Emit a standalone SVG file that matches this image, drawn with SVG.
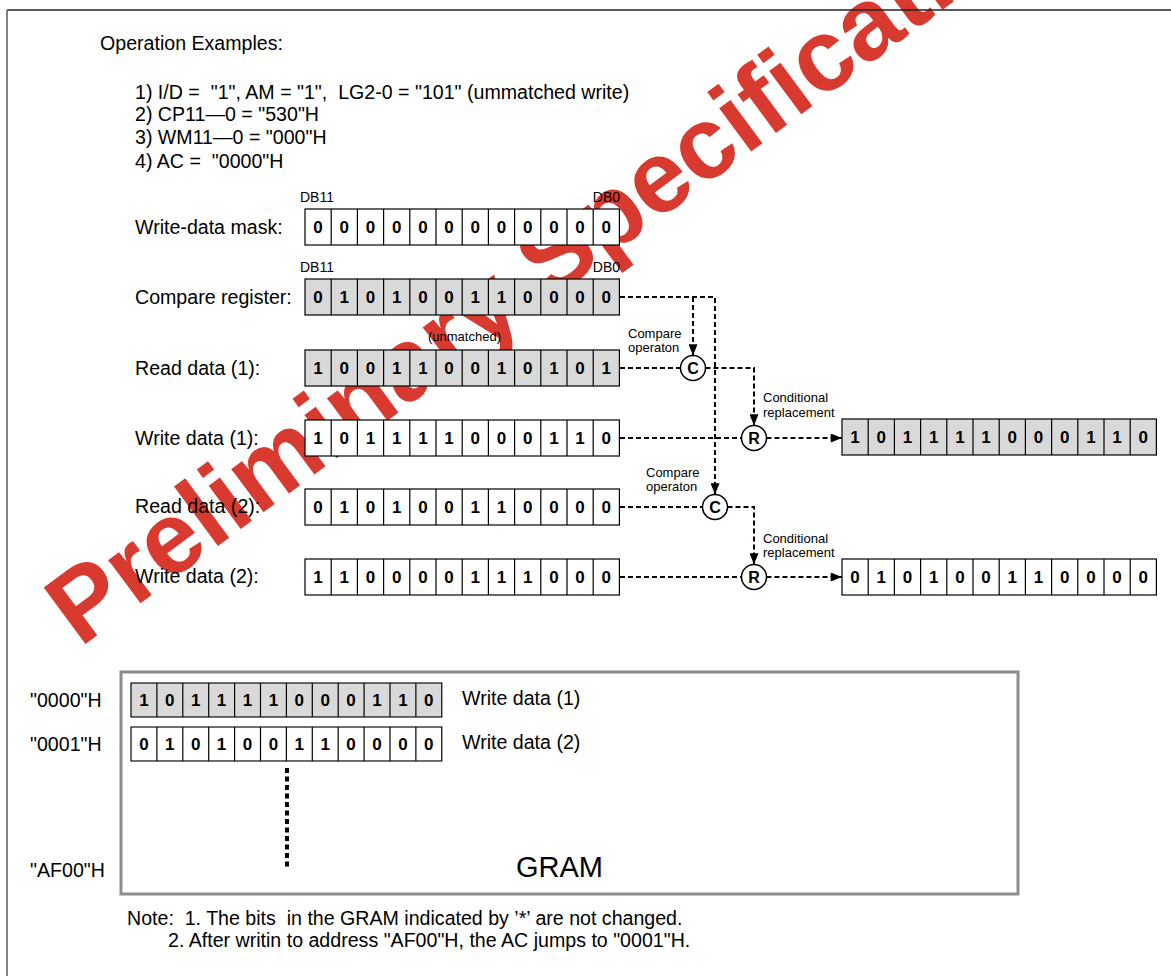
<svg xmlns="http://www.w3.org/2000/svg" xmlns:xlink="http://www.w3.org/1999/xlink" width="1171" height="976" viewBox="0 0 1171 976">
<style>
text{font-family:"Liberation Sans",Arial,sans-serif;fill:#000}
.t{font-size:19.6px}
.s{font-size:13px}
.db{font-size:14px}
.b{font-size:17px;font-weight:bold;text-anchor:middle}
.cl{font-size:16px;font-weight:bold;text-anchor:middle}
.grid rect,.grid path{stroke:#000;stroke-width:1.2}
.grid path{fill:none}
.g{fill:#d9d9d9}
.w{fill:#fff}
.con{fill:none;stroke:#000;stroke-width:2;stroke-dasharray:5 3}
.op{fill:#fff;stroke:#000;stroke-width:1.5}
.wm{font-size:102px;font-weight:bold;fill:#d93a30}
</style>
<defs>
<g id="cells" class="grid">
<rect width="314.4" height="36"/>
<path d="M26.2 0v36M52.4 0v36M78.6 0v36M104.8 0v36M131 0v36M157.2 0v36M183.4 0v36M209.6 0v36M235.8 0v36M262 0v36M288.2 0v36"/>
</g>
<marker id="ah" viewBox="0 0 10 8" refX="10" refY="4" markerWidth="14" markerHeight="9" markerUnits="userSpaceOnUse" orient="auto"><path d="M0 0L10 4L0 8z" fill="#000"/></marker>
</defs>
<rect width="1171" height="976" fill="#fff"/>

<text class="wm" x="80" y="648" transform="rotate(-36.5 80 648)">Preliminary Specification</text>

<path d="M7 10H1171" stroke="#222" stroke-width="1.3"/>
<path d="M7 10V976" stroke="#808080" stroke-width="2"/>

<g id="header">
<text class="t" x="100" y="50">Operation Examples:</text>
<text class="t" x="135" y="99" xml:space="preserve">1) I/D =  "1", AM = "1",  LG2-0 = "101" (ummatched write)</text>
<text class="t" x="135" y="121">2) CP11—0 = "530"H</text>
<text class="t" x="135" y="144">3) WM11—0 = "000"H</text>
<text class="t" x="135" y="168" xml:space="preserve">4) AC =  "0000"H</text>
</g>

<g id="mask">
<text class="t" x="135" y="234">Write-data mask:</text>
<text class="db" x="300" y="202">DB11</text>
<text class="db" x="620" y="202" text-anchor="end">DB0</text>
<use xlink:href="#cells" x="305" y="209" class="w"/>
<text class="b" y="233" x="318.1 344.3 370.5 396.7 422.9 449.1 475.3 501.5 527.7 553.9 580.1 606.3">000000000000</text>
</g>

<g id="compare">
<text class="t" x="135" y="304">Compare register:</text>
<text class="db" x="300" y="272">DB11</text>
<text class="db" x="620" y="272" text-anchor="end">DB0</text>
<use xlink:href="#cells" x="305" y="279" class="g"/>
<text class="b" y="303" x="318.1 344.3 370.5 396.7 422.9 449.1 475.3 501.5 527.7 553.9 580.1 606.3">010100110000</text>
</g>

<g id="read1">
<text class="t" x="135" y="375">Read data (1):</text>
<text class="s" x="428" y="341">(unmatched)</text>
<use xlink:href="#cells" x="305" y="350" class="g"/>
<text class="b" y="374" x="318.1 344.3 370.5 396.7 422.9 449.1 475.3 501.5 527.7 553.9 580.1 606.3">100110010101</text>
</g>

<g id="write1">
<text class="t" x="135" y="445">Write data (1):</text>
<use xlink:href="#cells" x="305" y="420" class="w"/>
<text class="b" y="444" x="318.1 344.3 370.5 396.7 422.9 449.1 475.3 501.5 527.7 553.9 580.1 606.3">101111000110</text>
</g>

<g id="read2">
<text class="t" x="135" y="513">Read data (2):</text>
<use xlink:href="#cells" x="305" y="489" class="w"/>
<text class="b" y="513" x="318.1 344.3 370.5 396.7 422.9 449.1 475.3 501.5 527.7 553.9 580.1 606.3">010100110000</text>
</g>

<g id="write2">
<text class="t" x="135" y="583">Write data (2):</text>
<use xlink:href="#cells" x="305" y="559" class="w"/>
<text class="b" y="583" x="318.1 344.3 370.5 396.7 422.9 449.1 475.3 501.5 527.7 553.9 580.1 606.3">110000111000</text>
</g>

<g id="out1">
<use xlink:href="#cells" x="842" y="419" class="g"/>
<text class="b" y="443" x="855.1 881.3 907.5 933.7 959.9 986.1 1012.3 1038.5 1064.7 1090.9 1117.1 1143.3">101111000110</text>
</g>

<g id="out2">
<use xlink:href="#cells" x="842" y="559" class="w"/>
<text class="b" y="583" x="855.1 881.3 907.5 933.7 959.9 986.1 1012.3 1038.5 1064.7 1090.9 1117.1 1143.3">010100110000</text>
</g>

<g id="connectors">
<path class="con" d="M620 297H715V494.5" marker-end="url(#ah)"/>
<path class="con" d="M693 297V355.5" marker-end="url(#ah)"/>
<path class="con" d="M620 368H680.5"/>
<path class="con" d="M705.5 368H754V425.5" marker-end="url(#ah)"/>
<path class="con" d="M620 438H741.5"/>
<path class="con" d="M766.5 438H842" marker-end="url(#ah)"/>
<path class="con" d="M620 507H702.5"/>
<path class="con" d="M727.5 507H754V564.5" marker-end="url(#ah)"/>
<path class="con" d="M620 577H741.5"/>
<path class="con" d="M766.5 577H842" marker-end="url(#ah)"/>
</g>

<g id="c1">
<circle class="op" cx="693" cy="368" r="12.5"/>
<text class="cl" x="693" y="374">C</text>
<text class="s" x="628" y="338">Compare</text>
<text class="s" x="628" y="352">operaton</text>
</g>
<g id="r1">
<circle class="op" cx="754" cy="438" r="12.5"/>
<text class="cl" x="754" y="444">R</text>
<text class="s" x="763" y="402">Conditional</text>
<text class="s" x="763" y="417">replacement</text>
</g>
<g id="c2">
<circle class="op" cx="715" cy="507" r="12.5"/>
<text class="cl" x="715" y="513">C</text>
<text class="s" x="646" y="477">Compare</text>
<text class="s" x="646" y="491">operaton</text>
</g>
<g id="r2">
<circle class="op" cx="754" cy="577" r="12.5"/>
<text class="cl" x="754" y="583">R</text>
<text class="s" x="763" y="543">Conditional</text>
<text class="s" x="763" y="557">replacement</text>
</g>

<g id="gram">
<rect x="121" y="672" width="897" height="222" fill="none" stroke="#8c8c8c" stroke-width="3"/>
<text class="t" x="30" y="707">"0000"H</text>
<text class="t" x="30" y="751">"0001"H</text>
<text class="t" x="30" y="877">"AF00"H</text>
<use xlink:href="#cells" transform="translate(131 683) scale(0.9885 0.944)" class="g"/>
<text class="b" y="706" x="144 169.8 195.7 221.6 247.5 273.4 299.3 325.2 351.1 377 402.9 428.8">101111000110</text>
<use xlink:href="#cells" transform="translate(131 727) scale(0.9885 0.944)" class="w"/>
<text class="b" y="750" x="144 169.8 195.7 221.6 247.5 273.4 299.3 325.2 351.1 377 402.9 428.8">010100110000</text>
<text class="t" x="462" y="705">Write data (1)</text>
<text class="t" x="462" y="749">Write data (2)</text>
<path d="M287 768V868" stroke="#000" stroke-width="4" stroke-dasharray="5 3.5"/>
<text x="516" y="877" font-size="29">GRAM</text>
</g>

<g id="notes">
<text class="t" x="127" y="925" xml:space="preserve">Note:  1. The bits  in the GRAM indicated by ’*’ are not changed.</text>
<text class="t" x="168" y="947">2. After writin to address "AF00"H, the AC jumps to "0001"H.</text>
</g>
</svg>
